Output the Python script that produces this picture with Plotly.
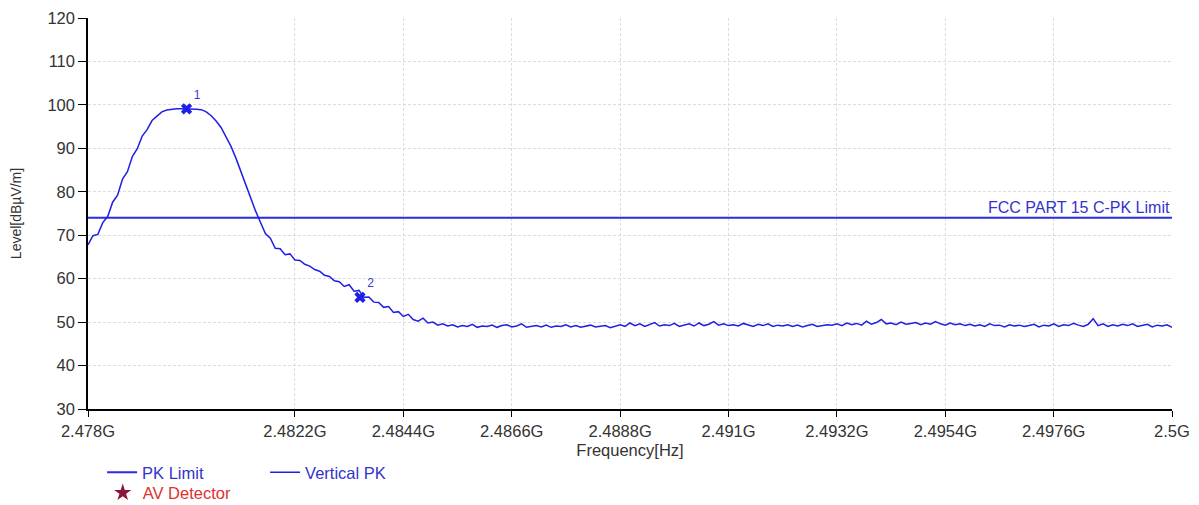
import plotly.graph_objects as go

# ---- data ----
freq_start = 2.4780   # GHz
freq_step = 0.0001    # GHz
level = [
    67.8, 69.9, 70.2, 72.9, 74.3, 77.6, 79.2, 82.9, 84.6, 88.1,
    89.9, 92.8, 94.3, 96.4, 97.4, 98.4, 98.8, 99.0, 99.1, 99.1,
    99.1, 99.1, 99.0, 98.9, 98.4, 97.5, 96.3, 94.8, 92.8, 90.5,
    87.8, 84.8, 81.6, 78.4, 75.6, 73.0, 70.4, 69.3, 67.0, 66.9,
    65.5, 65.7, 64.3, 64.2, 63.3, 62.9, 62.1, 61.7, 60.8, 60.5,
    59.5, 59.3, 58.2, 58.6, 57.1, 57.3, 55.7, 55.8, 54.6, 54.5,
    53.4, 53.6, 52.2, 52.4, 51.3, 51.8, 50.6, 50.2, 50.9, 49.8,
    50.0, 49.3, 49.6, 49.1, 49.4, 48.9, 49.2, 49.0, 49.5, 48.8,
    49.1, 49.0, 49.3, 48.8, 49.2, 49.4, 48.9, 49.1, 49.6, 48.8,
    49.0, 49.2, 48.9, 49.3, 48.8, 49.1, 49.0, 49.4, 48.9, 49.2,
    48.8, 49.1, 49.3, 48.9, 49.0, 49.2, 48.7, 49.1, 49.4, 49.0,
    49.8, 49.2, 49.6, 49.0, 49.5, 49.9, 49.1, 49.4, 49.2, 49.7,
    49.0, 49.3, 49.6, 49.1, 49.8, 49.2, 49.5, 50.1, 49.3, 49.6,
    49.2, 49.4, 49.1, 49.7, 49.3, 49.0, 49.5, 49.2, 49.6, 49.0,
    49.3, 49.1, 49.4, 49.0, 49.3, 48.9, 49.2, 49.5, 49.0, 49.2,
    49.4, 49.3, 49.6, 49.2, 49.8, 49.4, 49.7, 49.3, 50.2, 49.5,
    49.9, 50.6, 49.6, 49.8, 49.4, 50.0, 49.5, 49.7, 49.9, 49.4,
    49.8, 49.5, 50.1, 49.6, 49.3, 49.8, 49.4, 49.6, 49.2, 49.5,
    49.1, 49.4, 49.0, 49.6, 49.2, 49.3, 48.9, 49.4, 49.1, 49.3,
    49.0, 49.2, 49.5, 48.9, 49.3, 49.1, 49.6, 49.0, 49.4, 49.2,
    49.7, 49.3, 49.0, 49.5, 50.8, 49.2, 49.6, 49.0, 49.4, 49.1,
    49.5, 49.2, 49.6, 49.0, 49.3, 49.5, 48.9, 49.3, 49.1, 49.4,
    48.8,
]
freq = [freq_start + i * freq_step for i in range(len(level))]

limit_freq = [2.478, 2.5]
limit_level = [74, 74]
limit_name = "FCC PART 15 C-PK Limit"

marker_freq = [2.4800, 2.48352]
marker_level = [99.1, 55.7]
marker_text = ["1", "2"]

x_tickvals = [2.478, 2.4822, 2.4844, 2.4866, 2.4888, 2.491, 2.4932, 2.4954, 2.4976, 2.5]
x_ticktext = ["2.478G", "2.4822G", "2.4844G", "2.4866G", "2.4888G", "2.491G",
              "2.4932G", "2.4954G", "2.4976G", "2.5G"]

# ---- figure ----
BLUE = "#1f1fe6"
LIM_BLUE = "#2b2be0"
FONT = "Liberation Sans, Arial, sans-serif"
TXT = "#333333"
GRID = "#dcdcdc"

fig = go.Figure()

fig.add_trace(go.Scatter(
    x=limit_freq, y=limit_level, mode="lines", name="PK Limit",
    line=dict(color=LIM_BLUE, width=2), legend="legend", hoverinfo="skip"))

fig.add_trace(go.Scatter(
    x=freq, y=level, mode="lines", name="Vertical PK",
    line=dict(color=BLUE, width=1.5), legend="legend"))

fig.add_trace(go.Scatter(
    x=marker_freq, y=marker_level, mode="markers+text", text=marker_text,
    textposition="top right", textfont=dict(color="#3a3acc", size=12, family=FONT),
    marker=dict(symbol="x", size=10, color=BLUE), showlegend=False))

fig.add_trace(go.Scatter(
    x=[None], y=[None], mode="markers", name="AV Detector",
    marker=dict(symbol="star", size=13, color="#8b1538"), legend="legend2"))

fig.add_annotation(x=limit_freq[-1], y=limit_level[-1], text=limit_name,
                   xanchor="right", yanchor="bottom", showarrow=False,
                   font=dict(color="#3333cc", size=16, family=FONT), yshift=0)

fig.update_layout(
    width=1191, height=497,
    margin=dict(l=80, r=27, t=10, b=96, autoexpand=False),
    paper_bgcolor="white", plot_bgcolor="white",
    font=dict(family=FONT, size=16, color=TXT),
    showlegend=True,
    legend=dict(orientation="h", x=0.013, y=-0.118, xanchor="left", yanchor="top",
                font=dict(color="#3333cc", size=16.5, family=FONT),
                entrywidth=118, bgcolor="rgba(0,0,0,0)"),
    legend2=dict(orientation="h", x=0.0136, y=-0.17, xanchor="left", yanchor="top",
                 font=dict(color="#e03030", size=16.5, family=FONT),
                 bgcolor="rgba(0,0,0,0)"),
    xaxis=dict(range=[2.478, 2.5], tickvals=x_tickvals, ticktext=x_ticktext,
               showline=True, linecolor="black", linewidth=1.5,
               ticks="outside", ticklen=6, tickcolor="black", automargin=False,
               ticklabeloverflow="allow",
               showgrid=True, gridcolor=GRID, griddash="3px,2px", gridwidth=1,
               zeroline=False, title=dict(text="Frequency[Hz]", standoff=6,
                                          font=dict(size=16.5, color=TXT)),
               tickfont=dict(size=16.5, color=TXT)),
    yaxis=dict(range=[30, 120], dtick=10, tick0=30,
               showline=True, linecolor="black", linewidth=1.5,
               ticks="outside", ticklen=8, tickcolor="black", automargin=False,
               ticklabeloverflow="allow",
               showgrid=True, gridcolor=GRID, griddash="3px,2px", gridwidth=1,
               zeroline=False, title=dict(text="Level[dBµV/m]", standoff=30,
                                          font=dict(size=14, color=TXT)),
               tickfont=dict(size=16.5, color=TXT)),
)

fig.write_html("out.html")
